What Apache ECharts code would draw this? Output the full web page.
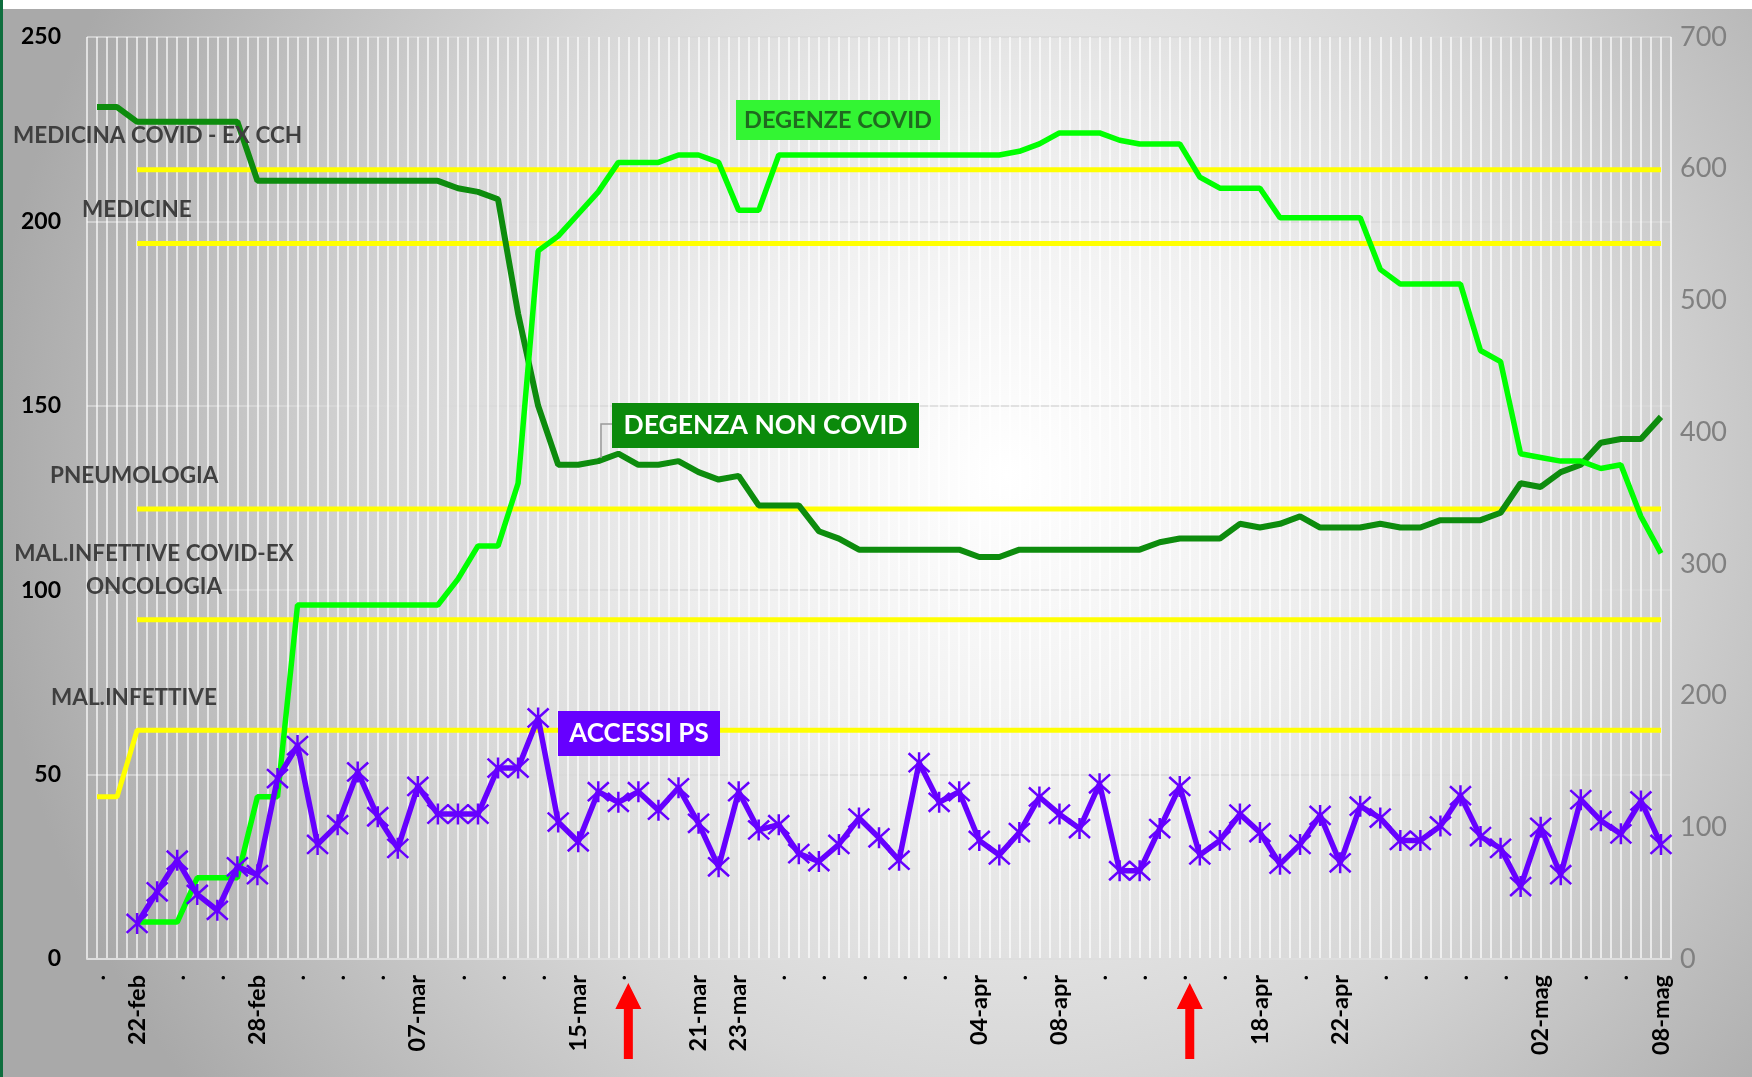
<!DOCTYPE html>
<html><head><meta charset="utf-8">
<script src="https://cdn.jsdelivr.net/npm/echarts@6/dist/echarts.min.js"></script>
<style>html,body{margin:0;padding:0;background:#fff}#c{width:1752px;height:1077px}</style>
</head><body><div id="c"></div><script>
// ---------- data ----------
const categories = [
 '20-feb','21-feb','22-feb','23-feb','24-feb','25-feb','26-feb','27-feb','28-feb','29-feb',
 '01-mar','02-mar','03-mar','04-mar','05-mar','06-mar','07-mar','08-mar','09-mar','10-mar',
 '11-mar','12-mar','13-mar','14-mar','15-mar','16-mar','17-mar','18-mar','19-mar','20-mar',
 '21-mar','22-mar','23-mar','24-mar','25-mar','26-mar','27-mar','28-mar','29-mar','30-mar',
 '31-mar','01-apr','02-apr','03-apr','04-apr','05-apr','06-apr','07-apr','08-apr','09-apr',
 '10-apr','11-apr','12-apr','13-apr','14-apr','15-apr','16-apr','17-apr','18-apr','19-apr',
 '20-apr','21-apr','22-apr','23-apr','24-apr','25-apr','26-apr','27-apr','28-apr','29-apr',
 '30-apr','01-mag','02-mag','03-mag','04-mag','05-mag','06-mag','07-mag','08-mag'];
const shownDateLabels = ['22-feb','28-feb','07-mar','15-mar','21-mar','23-mar','04-apr','08-apr','18-apr','22-apr','02-mag','08-mag'];
const blankDateLabels = ['19-mar'];
const arrowDates = ['17-mar','14-apr'];

const degenzaNonCovid = [
 231,231,227,227,227,227,227,227,211,211,
 211,211,211,211,211,211,211,211,209,208,
 206,175,150,134,134,135,137,134,134,135,
 132,130,131,123,123,123,116,114,111,111,
 111,111,111,111,109,109,111,111,111,111,
 111,111,111,113,114,114,114,118,117,118,
 120,117,117,117,118,117,117,119,119,119,
 121,129,128,132,134,140,141,141,147];
const degenzeCovid = [
 null,null,10,10,10,22,22,22,44,44,
 96,96,96,96,96,96,96,96,103,112,
 112,129,192,196,202,208,216,216,216,218,
 218,216,203,203,218,218,218,218,218,218,
 218,218,218,218,218,218,219,221,224,224,
 224,222,221,221,221,212,209,209,209,201,
 201,201,201,201,187,183,183,183,183,165,
 162,137,136,135,135,133,134,120,110];
const accessiPS = [
 null,null,27,51,75,49,37,70,64,137,
 162,87,102,142,108,84,131,110,110,110,
 145,145,183,104,89,127,119,127,113,130,
 103,70,127,98,102,80,74,87,107,92,
 75,149,119,127,90,79,96,123,110,99,
 133,67,67,99,131,79,90,110,96,72,
 87,109,73,116,107,90,90,101,124,93,
 84,55,100,64,121,105,95,120,87];
const bedsMalInfettive = [['20-feb',44],['21-feb',44],['22-feb',62],['08-mag',62]];
const bedsOncologia    = [['22-feb',92],['08-mag',92]];
const bedsPneumologia  = [['22-feb',122],['08-mag',122]];
const bedsMedicine     = [['22-feb',194],['08-mag',194]];
const bedsMedicinaCovid= [['22-feb',214],['08-mag',214]];
const leftTicks = [0,250,50];
const rightTicks = [0,700,100];

// ---------- chart ----------
const FONT = 'Lato, "Open Sans", "DejaVu Sans", sans-serif';
const chart = echarts.init(document.getElementById('c'), null, {renderer:'canvas', width:1752, height:1077});
const capStyle = {type:'line', symbol:'none', lineStyle:{color:'#ffff00', width:5}, itemStyle:{color:'#ffff00'}, z:2, silent:true};
const option = {
  animation:false,
  backgroundColor: new echarts.graphic.RadialGradient(0.575, 0.44, 0.95, [
    {offset:0, color:'#ffffff'}, {offset:0.3, color:'#efefef'}, {offset:0.6, color:'#d6d6d6'}, {offset:1, color:'#a9a9a9'}]),
  grid:{left:87, right:81, top:37, bottom:118},
  xAxis:[
    {type:'category', data:categories, boundaryGap:true,
     axisLine:{show:true, lineStyle:{color:'#dedede', width:2}}, axisTick:{show:false}, splitLine:{show:false},
     axisLabel:{interval:1, rotate:90, margin:16, color:'#000', fontWeight:'bold', fontSize:23.5, fontFamily:FONT,
       formatter:v => shownDateLabels.includes(v) ? v : (blankDateLabels.includes(v) ? '' : '.')}},
    {type:'value', min:0, max:158, interval:1, position:'top',
     axisLine:{show:false}, axisTick:{show:false}, axisLabel:{show:false},
     splitLine:{show:true, lineStyle:{color:'rgba(255,255,255,0.85)', width:1.5}}}
  ],
  yAxis:[
    {type:'value', min:leftTicks[0], max:leftTicks[1], interval:leftTicks[2],
     axisLine:{show:false}, axisTick:{show:false},
     axisLabel:{color:'#000', fontWeight:'bold', fontSize:23, margin:26, fontFamily:FONT},
     splitLine:{lineStyle:{color:'#d9d9d9', width:1.5}}},
    {type:'value', min:rightTicks[0], max:rightTicks[1], interval:rightTicks[2], position:'right',
     axisLine:{show:false}, axisTick:{show:false},
     axisLabel:{color:'#808080', fontSize:27, margin:9, fontFamily:FONT},
     splitLine:{show:false}}
  ],
  series:[
    Object.assign({name:'MAL.INFETTIVE', data:bedsMalInfettive}, capStyle),
    Object.assign({name:'MAL.INFETTIVE COVID-EX ONCOLOGIA', data:bedsOncologia}, capStyle),
    Object.assign({name:'PNEUMOLOGIA', data:bedsPneumologia}, capStyle),
    Object.assign({name:'MEDICINE', data:bedsMedicine}, capStyle),
    Object.assign({name:'MEDICINA COVID - EX CCH', data:bedsMedicinaCovid}, capStyle),
    {name:'DEGENZA NON COVID', type:'line', data:degenzaNonCovid, symbol:'none', z:3,
     lineStyle:{color:'#0d8c0d', width:6}, itemStyle:{color:'#0d8c0d'}},
    {name:'DEGENZE COVID', type:'line', data:degenzeCovid, symbol:'none', z:4,
     lineStyle:{color:'#00ff00', width:5.5}, itemStyle:{color:'#00ff00'}},
    {name:'ACCESSI PS', type:'line', yAxisIndex:1, data:accessiPS, z:5,
     symbol:'path://M1,1L19,19M19,1L1,19M10,0L10,20', symbolSize:21, showAllSymbol:true,
     lineStyle:{color:'#6600ff', width:5.5},
     itemStyle:{color:'#6600ff', borderColor:'#6600ff', borderWidth:2.5}}
  ]
};
chart.setOption(option);

const lbl = (text, x, y, align) => ({type:'text', z:50, style:{text, x, y, textAlign:align||'left', textVerticalAlign:'middle',
  font:'bold 22.5px ' + FONT, fill:'#3f3f3f'}});
const box = (text, x, y, w, h, bg, fg, fs) => [
  {type:'rect', z:60, shape:{x, y, width:w, height:h}, style:{fill:bg}},
  {type:'text', z:61, style:{text, x:x+w/2, y:y+h/2, textAlign:'center', textVerticalAlign:'middle', font:'bold '+fs+'px '+FONT, fill:fg}}
];
const graphics = [
  {type:'rect', z:100, shape:{x:0, y:0, width:1752, height:9}, style:{fill:'#ffffff'}},
  {type:'rect', z:100, shape:{x:0, y:0, width:3, height:1077}, style:{fill:'#0f6e3e'}},
  lbl('MEDICINA COVID - EX CCH', 13, 136),
  lbl('MEDICINE', 82, 210),
  lbl('PNEUMOLOGIA', 50, 476),
  lbl('MAL.INFETTIVE COVID-EX', 154, 554, 'center'),
  lbl('ONCOLOGIA', 154, 587, 'center'),
  lbl('MAL.INFETTIVE', 51, 698),
  ...box('DEGENZE COVID', 736, 100, 204, 40, '#33f533', '#1f6a1f', 23.5),
  ...box('DEGENZA NON COVID', 612, 403, 307, 45, '#0b8a0b', '#ffffff', 26.5),
  {type:'polyline', z:59, shape:{points:[[612,424],[601,424],[601,458]]}, style:{stroke:'#9a9a9a', lineWidth:1.5, fill:null}},
  ...box('ACCESSI PS', 558, 711, 162, 45, '#6600ff', '#ffffff', 26)
];
arrowDates.forEach(d => {
  const x = chart.convertToPixel({xAxisIndex:0}, categories.indexOf(d)) + 10;
  graphics.push({type:'polygon', z:70, shape:{points:[[x,983],[x+13,1009],[x+4.5,1009],[x+4.5,1059],[x-4.5,1059],[x-4.5,1009],[x-13,1009]]}, style:{fill:'#ff0000'}});
});
chart.setOption({graphic:graphics});
</script></body></html>
